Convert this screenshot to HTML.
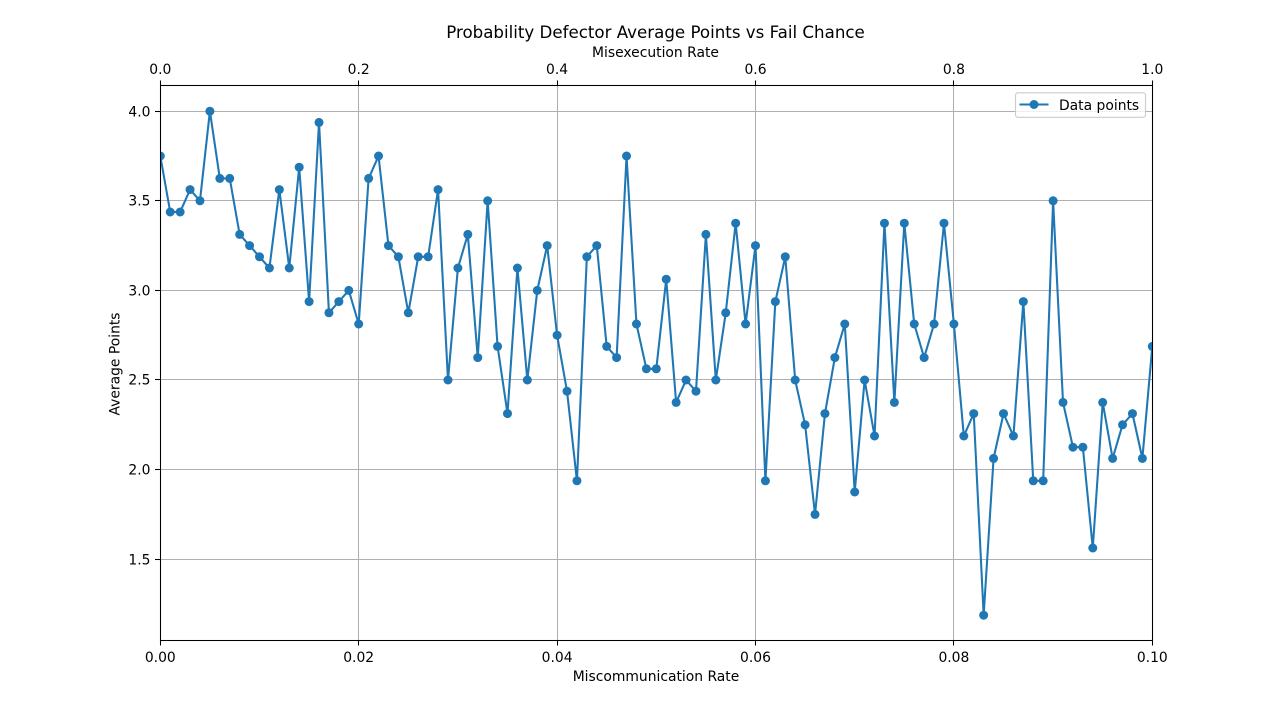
<!DOCTYPE html>
<html>
<head>
<meta charset="utf-8">
<title>Probability Defector Average Points vs Fail Chance</title>
<style>
html,body{margin:0;padding:0;background:#fff;width:1280px;height:719px;overflow:hidden}
svg{display:block}
text{font-family:"DejaVu Sans",sans-serif;font-size:13.89px;fill:#000}
</style>
</head>
<body>
<svg id="chart" width="1280" height="719" viewBox="0 0 1280 719" xmlns="http://www.w3.org/2000/svg">
<defs><clipPath id="plot-clip"><rect x="160" y="85.5" width="992.5" height="555"/></clipPath></defs>
<rect x="0" y="0" width="1280" height="719" fill="#fff"/>
<g id="grid"></g>
<g id="series" clip-path="url(#plot-clip)"></g>
<rect x="160.5" y="85.5" width="992" height="555" fill="none" stroke="#000" stroke-width="1.05"/>
<g id="ticks"></g>
<text x="655.5" y="38" text-anchor="middle" style="font-size:16.67px">Probability Defector Average Points vs Fail Chance</text>
<text x="655.5" y="57" text-anchor="middle">Misexecution Rate</text>
<text x="656" y="681" text-anchor="middle">Miscommunication Rate</text>
<text x="0" y="0" text-anchor="middle" transform="translate(119.5,364) rotate(-90)">Average Points</text>
<g>
<rect x="1015.5" y="92.8" width="130" height="24.5" rx="2.5" fill="#fff" fill-opacity="0.8" stroke="#ccc" stroke-width="1.11"/>
<line x1="1019.5" y1="104.5" x2="1048.5" y2="104.5" stroke="#1f77b4" stroke-width="2.08"/>
<circle cx="1034" cy="104.5" r="4.5" fill="#1f77b4"/>
<text x="1059" y="110">Data points</text>
</g>
</svg>
<script>
const miscommunicationRates = [0,0.001,0.002,0.003,0.004,0.005,0.006,0.007,0.008,0.009,0.01,0.011,0.012,0.013,0.014,0.015,0.016,0.017,0.018,0.019,0.02,0.021,0.022,0.023,0.024,0.025,0.026,0.027,0.028,0.029,0.03,0.031,0.032,0.033,0.034,0.035,0.036,0.037,0.038,0.039,0.04,0.041,0.042,0.043,0.044,0.045,0.046,0.047,0.048,0.049,0.05,0.051,0.052,0.053,0.054,0.055,0.056,0.057,0.058,0.059,0.06,0.061,0.062,0.063,0.064,0.065,0.066,0.067,0.068,0.069,0.07,0.071,0.072,0.073,0.074,0.075,0.076,0.077,0.078,0.079,0.08,0.081,0.082,0.083,0.084,0.085,0.086,0.087,0.088,0.089,0.09,0.091,0.092,0.093,0.094,0.095,0.096,0.097,0.098,0.099,0.1];
const averagePoints = [3.75,3.4375,3.4375,3.5625,3.5,4.0,3.625,3.625,3.3125,3.25,3.1875,3.125,3.5625,3.125,3.6875,2.9375,3.9375,2.875,2.9375,3.0,2.8125,3.625,3.75,3.25,3.1875,2.875,3.1875,3.1875,3.5625,2.5,3.125,3.3125,2.625,3.5,2.6875,2.3125,3.125,2.5,3.0,3.25,2.75,2.4375,1.9375,3.1875,3.25,2.6875,2.625,3.75,2.8125,2.5625,2.5625,3.0625,2.375,2.5,2.4375,3.3125,2.5,2.875,3.375,2.8125,3.25,1.9375,2.9375,3.1875,2.5,2.25,1.75,2.3125,2.625,2.8125,1.875,2.5,2.1875,3.375,2.375,3.375,2.8125,2.625,2.8125,3.375,2.8125,2.1875,2.3125,1.1875,2.0625,2.3125,2.1875,2.9375,1.9375,1.9375,3.5,2.375,2.125,2.125,1.5625,2.375,2.0625,2.25,2.3125,2.0625,2.6875];
const bottomTicks = [0,0.02,0.04,0.06,0.08,0.1];
const bottomTickLabels = ["0.00","0.02","0.04","0.06","0.08","0.10"];
const topTicks = [0,0.2,0.4,0.6,0.8,1];
const topTickLabels = ["0.0","0.2","0.4","0.6","0.8","1.0"];
const yTicks = [1.5,2,2.5,3,3.5,4];
const yTickLabels = ["1.5","2.0","2.5","3.0","3.5","4.0"];

const NS = 'http://www.w3.org/2000/svg';
const LEFT = 160, RIGHT = 1152, TOP = 85.5, BOTTOM = 640.5;
function xBottom(v){ return LEFT + 0.3 + (v / 0.1) * (RIGHT - LEFT); }
function xTop(v){ return LEFT + 0.3 + v * (RIGHT - LEFT); }
function yScale(v){ return 111.2 + (4 - v) * 179.2; }
function snap(p){ return Math.floor(p) + 0.5; }
function make(tag, attrs, parent){
  const el = document.createElementNS(NS, tag);
  for (const k in attrs) el.setAttribute(k, attrs[k]);
  parent.appendChild(el);
  return el;
}
const gridG = document.getElementById('grid');
const ticksG = document.getElementById('ticks');
const seriesG = document.getElementById('series');

bottomTicks.forEach(function(v, i){
  const x = snap(xBottom(v));
  const g = make('line', {x1:x, x2:x, y1:TOP, y2:BOTTOM, stroke:'#b0b0b0', 'stroke-width':1.05}, gridG);
  
  
  const t = make('line', {x1:x, x2:x, y1:BOTTOM, y2:BOTTOM + 5, stroke:'#000', 'stroke-width':1.05}, ticksG);
  
  
  const l = make('text', {x:xBottom(v), y:662, 'text-anchor':'middle'}, ticksG);
  
  
  l.textContent = bottomTickLabels[i];
});
topTicks.forEach(function(v, i){
  const x = snap(xTop(v));
  const t = make('line', {x1:x, x2:x, y1:TOP - 5, y2:TOP, stroke:'#000', 'stroke-width':1.05}, ticksG);
  
  
  const l = make('text', {x:xTop(v), y:74, 'text-anchor':'middle'}, ticksG);
  
  
  l.textContent = topTickLabels[i];
});
yTicks.forEach(function(v, i){
  const y = snap(yScale(v) - 0.2);
  const g = make('line', {x1:LEFT, x2:RIGHT, y1:y, y2:y, stroke:'#b0b0b0', 'stroke-width':1.05}, gridG);
  
  
  const t = make('line', {x1:LEFT - 5, x2:LEFT + 0.5, y1:y, y2:y, stroke:'#000', 'stroke-width':1.05}, ticksG);
  
  
  const l = make('text', {x:LEFT - 9.5, y:y + 5, 'text-anchor':'end'}, ticksG);
  
  
  l.textContent = yTickLabels[i];
});
const pts = miscommunicationRates.map(function(r, i){ return xBottom(r).toFixed(2) + ',' + yScale(averagePoints[i]).toFixed(2); }).join(' ');
const line = make('polyline', {points:pts, fill:'none', stroke:'#1f77b4', 'stroke-width':2.08, 'stroke-linejoin':'round'}, seriesG);


miscommunicationRates.forEach(function(r, i){
  const c = make('circle', {cx:xBottom(r), cy:yScale(averagePoints[i]), r:4.5, fill:'#1f77b4'}, seriesG);
  
  
});
</script>
</body>
</html>
